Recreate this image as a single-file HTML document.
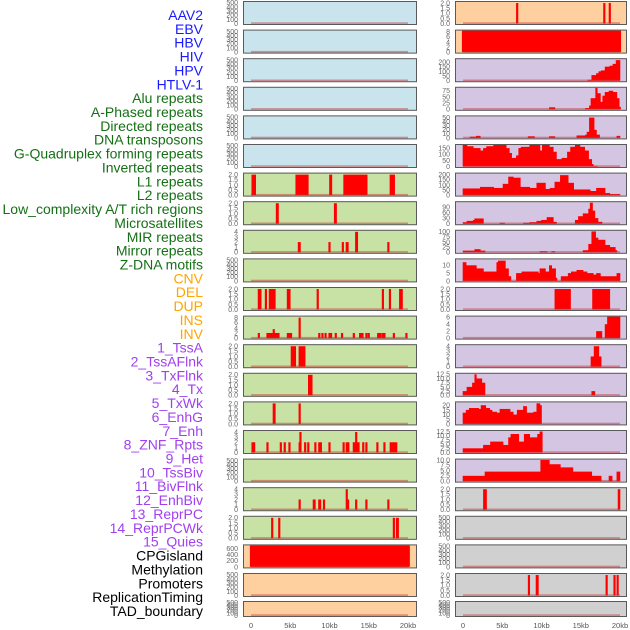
<!DOCTYPE html>
<html><head><meta charset="utf-8">
<style>
html,body{margin:0;padding:0;background:#fff;}
svg{display:block;}
</style></head>
<body>
<svg id="chart" width="630" height="630" viewBox="0 0 630 630" xmlns="http://www.w3.org/2000/svg">
<g id="labels"></g>
<g id="panels"></g>
<g id="xaxes"></g>
</svg>
<script>
const trackLabels = ["AAV2","EBV","HBV","HIV","HPV","HTLV-1","Alu repeats","A-Phased repeats","Directed repeats","DNA transposons","G-Quadruplex forming repeats","Inverted repeats","L1 repeats","L2 repeats","Low_complexity A/T rich regions","Microsatellites","MIR repeats","Mirror repeats","Z-DNA motifs","CNV","DEL","DUP","INS","INV","1_TssA","2_TssAFlnk","3_TxFlnk","4_Tx","5_TxWk","6_EnhG","7_Enh","8_ZNF_Rpts","9_Het","10_TssBiv","11_BivFlnk","12_EnhBiv","13_ReprPC","14_ReprPCWk","15_Quies","CPGisland","Methylation","Promoters","ReplicationTiming","TAD_boundary"];
const labelGroups = ["v","v","v","v","v","v","r","r","r","r","r","r","r","r","r","r","r","r","r","s","s","s","s","s","c","c","c","c","c","c","c","c","c","c","c","c","c","c","c","o","o","o","o","o"];
const xTicks = [0,5,10,15,20];
const xTickLabels = ["0","5kb","10kb","15kb","20kb"];

const leftBg = ["b","b","b","b","b","b","g","g","g","g","g","g","g","g","g","g","g","g","g","o","o","o"];
const leftYmax = [520,520,520,520,520,520,2.1,2.1,4.2,520,2.1,8.4,2.1,2.1,2.1,4.2,520,4.2,2.1,700,520,520];
const leftTicks = [
 [0,100,200,300,400,500],[0,100,200,300,400,500],[0,100,200,300,400,500],[0,100,200,300,400,500],[0,100,200,300,400,500],[0,100,200,300,400,500],
 ["0.0","0.5","1.0","1.5","2.0"],["0.0","0.5","1.0","1.5","2.0"],[0,1,2,3,4],[0,100,200,300,400,500],["0.0","0.5","1.0","1.5","2.0"],[0,2,4,6,8],
 ["0.0","0.5","1.0","1.5","2.0"],["0.0","0.5","1.0","1.5","2.0"],["0.0","0.5","1.0","1.5","2.0"],[0,1,2,3,4],[0,100,200,300,400,500],[0,1,2,3,4],
 ["0.0","0.5","1.0","1.5","2.0"],[0,200,400,600],[0,100,200,300,400,500],[0,100,200,300,400,500]];
const leftSegs = [
 [],[],[],[],[],[],
 [[0.1,0.6,2],[5.7,7.3,2],[10.0,10.3,2],[11.8,14.8,2],[17.7,18.3,2]],
 [[3.2,3.5,2],[10.6,10.9,2]],
 [[6.0,6.3,2],[9.9,10.1,2],[11.6,11.8,2],[12.1,12.4,2],[13.3,13.6,4],[17.4,17.6,2]],
 [],
 [[0.9,1.3,2],[1.8,2.0,2],[2.3,3.1,2],[4.6,5.0,2],[8.4,8.6,2],[16.7,16.9,2],[17.6,17.8,2],[18.9,19.3,2]],
 [[0.9,1.1,2],[2.0,2.8,2],[2.8,3.0,3.5],[3.0,3.6,2],[4.6,5.2,2],[6.1,6.3,8],[8.6,8.8,2],[9.0,9.2,2],[9.4,9.6,2],[9.9,10.3,2],[10.7,10.9,2],[11.5,11.7,2],[13.0,13.2,2],[13.8,14.3,2],[14.6,14.8,2],[14.9,15.1,2],[16.1,16.6,2],[16.7,17.1,2],[18.1,18.3,2],[19.7,19.9,2]],
 [[5.1,5.7,2],[6.1,6.9,2]],
 [[7.3,7.8,2]],
 [[2.8,3.1,2],[6.1,6.3,2]],
 [[0.1,0.5,2],[2.0,2.2,2],[3.7,3.9,2],[4.2,4.4,2],[4.8,5.0,2],[6.1,6.3,2],[6.2,6.4,4],[6.8,7.0,2],[7.2,7.4,2],[8.1,8.3,2],[8.6,9.0,2],[9.9,10.1,2],[11.7,11.9,2],[12.1,12.5,2],[13.0,13.8,2],[13.3,13.5,4],[14.2,14.4,2],[14.6,14.8,2],[16.0,16.2,2],[16.9,17.1,2],[17.7,18.6,2]],
 [],
 [[6.1,6.3,2],[7.9,8.2,2],[8.6,8.9,2],[9.2,9.4,2],[12.1,12.3,4],[12.3,12.4,2],[13.3,13.5,2],[14.6,14.8,2],[17.4,17.6,2]],
 [[2.6,2.8,2],[3.5,3.7,2],[18.1,18.3,2],[18.5,18.8,2]],
 [[-0.1,20.2,700]],
 [],[]];

const rightBg = ["o","o","p","p","p","p","p","p","p","p","p","p","p","p","p","p","p","y","y","y","y","y"];
const rightYmax = [2.1,8.4,230,87,53,175,210,115,103,13.8,2.1,6.2,4.2,12.8,23,12.8,10.2,2.1,520,520,2.1,520];
const rightTicks = [
 ["0.0","0.5","1.0","1.5","2.0"],[0,2,4,6,8],[0,50,100,150,200],[0,25,50,75],[0,10,20,30,40,50],[0,50,100,150],
 [0,50,100,150,200],[0,30,60,90],[0,25,50,75,100],[0,5,10],["0.0","0.5","1.0","1.5","2.0"],[0,2,4,6],
 [0,1,2,3,4],["0.0","2.5","5.0","7.5","10.0","12.5"],[0,5,10,15,20],["0.0","2.5","5.0","7.5","10.0","12.5"],["0.0","2.5","5.0","7.5","10.0"],["0.0","0.5","1.0","1.5","2.0"],
 [0,100,200,300,400,500],[0,100,200,300,400,500],["0.0","0.5","1.0","1.5","2.0"],[0,100,200,300,400,500]];
const rightSegs = [
 [[6.8,7.0,2],[17.9,18.1,2],[18.6,18.8,2]],
 [[-0.1,20.1,8.4]],
 [[15.9,16.4,10],[16.4,17.0,60],[17.0,17.3,80],[17.3,17.6,100],[17.6,18.1,110],[18.1,18.7,150],[18.7,19.1,160],[19.1,19.5,180],[19.5,20.0,220]],
 [[11.0,11.7,8],[15.6,16.1,5],[16.1,16.3,15],[16.3,16.9,45],[16.9,17.1,87],[17.1,17.5,65],[17.5,17.8,30],[17.8,18.1,55],[18.1,18.6,70],[18.6,19.1,75],[19.1,19.6,70],[19.6,19.9,45],[19.9,20.0,10]],
 [[0.9,1.7,3],[1.7,2.2,5],[8.3,9.1,4],[11.0,11.7,4],[14.5,15.6,6],[15.6,15.8,8],[15.8,16.1,15],[16.1,16.7,50],[16.7,17.0,20],[17.0,17.4,8],[19.6,20.0,5]],
 [[0.0,0.5,175],[0.5,1.3,165],[1.3,2.2,150],[2.2,2.6,130],[2.6,3.0,150],[3.0,3.9,165],[3.9,5.5,175],[5.5,5.9,150],[5.9,6.2,110],[6.2,6.8,70],[6.8,7.1,90],[7.1,7.4,150],[7.4,8.5,160],[8.5,9.8,175],[9.8,10.1,130],[10.1,11.0,175],[11.0,11.5,160],[11.5,11.9,120],[11.9,12.6,60],[12.6,13.3,70],[13.3,13.7,120],[13.7,14.3,160],[14.3,14.9,175],[14.9,15.5,160],[15.5,16.0,130],[16.0,16.4,60],[16.4,16.6,20],[16.6,17.1,5]],
 [[0.0,2.2,65],[2.2,3.9,80],[3.9,5.1,70],[5.1,5.8,110],[5.8,6.4,180],[6.4,7.3,170],[7.3,8.5,80],[8.5,9.4,70],[9.4,10.5,120],[10.5,11.1,60],[11.1,11.7,70],[11.7,12.4,130],[12.4,13.4,195],[13.4,14.1,120],[14.1,16.2,55],[16.2,17.0,40],[17.0,18.1,70],[18.1,18.7,20],[18.7,20.0,10]],
 [[0.0,0.5,8],[0.5,1.3,15],[1.3,1.5,20],[1.5,2.6,28],[4.7,5.3,5],[7.7,8.5,5],[8.5,9.4,8],[9.4,10.0,15],[10.0,10.7,20],[10.7,11.5,35],[11.5,11.9,10],[14.3,14.7,20],[14.7,15.3,40],[15.3,16.0,55],[16.0,16.2,80],[16.2,16.5,112],[16.5,16.8,70],[16.8,17.2,30],[17.2,17.7,10]],
 [[0.0,1.5,8],[1.5,2.2,15],[2.2,2.8,8],[9.8,10.7,5],[11.3,11.7,5],[15.3,16.0,10],[16.0,16.4,40],[16.4,16.9,100],[16.9,17.2,70],[17.2,18.1,60],[18.1,18.7,35],[18.7,19.4,25],[19.4,19.6,10]],
 [[0.0,0.4,12],[0.4,1.7,10],[1.7,2.6,8],[2.6,4.3,6],[4.3,4.5,12],[4.5,5.4,13],[5.4,5.8,8],[5.8,6.1,3],[6.8,7.5,5],[7.5,9.6,6],[9.6,9.8,5],[9.8,10.5,8],[10.5,11.0,6],[11.0,11.3,10],[11.3,11.8,8],[11.8,11.9,2],[12.5,13.4,3],[13.4,13.8,5],[13.8,14.5,6],[14.5,15.3,7],[15.3,15.8,6],[15.8,16.6,5],[16.6,17.0,4],[17.0,17.5,5],[17.5,19.6,3],[19.6,20.0,5]],
 [[11.7,13.7,2],[16.5,18.7,2]],
 [[17.0,17.7,2],[18.1,18.4,4],[18.4,20.0,6.2]],
 [[16.3,16.7,2],[16.7,17.3,4],[17.3,17.6,2]],
 [[0.0,0.5,2.5],[0.5,1.2,5],[1.2,1.5,7.5],[1.5,1.7,12.5],[1.7,2.4,10],[2.4,2.8,7.5],[16.4,16.8,2.5]],
 [[0.0,0.4,12],[0.4,0.8,15],[0.8,2.0,17],[2.0,2.3,16],[2.3,2.9,20],[2.9,3.4,17],[3.4,3.7,15],[3.7,4.3,13],[4.3,4.7,12],[4.7,6.0,16],[6.0,6.4,13],[6.4,6.9,10],[6.9,7.7,15],[7.7,8.1,19],[8.1,9.0,12],[9.0,9.4,13],[9.4,9.8,22],[9.8,10.0,20]],
 [[0.0,2.6,2.5],[2.6,3.5,4.5],[3.5,5.1,6.5],[5.1,5.8,4.5],[5.8,6.1,9],[6.1,7.1,11],[7.1,7.8,6.5],[7.8,8.5,11],[8.5,9.5,9],[9.5,9.8,11],[9.8,10.1,12.5]],
 [[0.0,2.8,2.5],[2.8,9.9,4.5],[9.9,11.0,10],[11.0,12.4,8],[12.4,14.0,6.5],[14.0,16.4,4.5],[16.4,17.6,2.5],[18.6,19.0,2.5],[19.6,20.0,4.5]],
 [[2.6,3.0,2],[19.75,20.0,2]],
 [],[],
 [[8.3,8.5,2],[9.3,9.6,2],[18.2,18.4,2],[19.2,19.4,2],[19.6,19.8,2]],
 []];

const bgColors = {b:"#c9e4ec",g:"#c8e1a5",o:"#fecf9f",p:"#d4c5e2",y:"#d0d0d0"};
const labelColors = {v:"#1a1aff",r:"#157015",s:"#ffa500",c:"#a040f0",o:"#000000"};
const NS = "http://www.w3.org/2000/svg";
function mk(tag, attrs, parent){const e=document.createElementNS(NS,tag);for(const k in attrs)e.setAttribute(k,attrs[k]);parent.appendChild(e);return e;}

const labelsG = document.getElementById('labels');
trackLabels.forEach((t,i)=>{
  const e = mk('text',{x:203,y:(20+i*13.86).toFixed(1),'text-anchor':'end','font-size':'14','font-family':'Liberation Sans, sans-serif',fill:labelColors[labelGroups[i]]},labelsG);
  
  
  e.textContent = t;
});

function rowTop(r){return r===21?601:1+r*28.6;}
function rowH(r){return r===21?16:24;}

const panelsG = document.getElementById('panels');
function drawColumn(colX0, colX1, zeroX, bgArr, ymaxArr, ticksArr, segsArr, side){
  const xs = kb => zeroX + kb*7.85;
  for(let r=0;r<22;r++){
    const t=rowTop(r), h=rowH(r);
    const y0=t+h-1.5, ytop=t+1;
    const ys = v => y0 - (v/ymaxArr[r])*(y0-ytop);
    const g = mk('g',{},panelsG);
    
    
    const bg = mk('rect',{x:colX0,y:t,width:colX1-colX0,height:h,fill:bgColors[bgArr[r]],stroke:'none'},g);
    
    
    segsArr[r].forEach(s=>{
      const x1=xs(s[0]), x2=xs(s[1]);
      const yv=Math.max(ys(s[2]),t);
      const b = mk('rect',{x:(x1-0.3).toFixed(2),y:yv.toFixed(2),width:(Math.max(x2-x1,1.3)+0.6).toFixed(2),height:(y0-yv).toFixed(2),fill:'#ff0000'},g);
      
      
    });
    const bl = mk('rect',{x:xs(0),y:y0-1.2,width:xs(20)-xs(0),height:1.6,fill:'rgba(200,40,40,0.45)'},g);
    
    
    const fr = mk('rect',{x:colX0+0.5,y:t+0.5,width:colX1-colX0-1,height:h-1,fill:'none',stroke:'#5a5a5a','stroke-width':1},g);
    
    
    ticksArr[r].forEach(tk=>{
      const v=parseFloat(tk);
      const ty=ys(v);
      const tx = mk('text',{x:colX0-5,y:(ty+2.4).toFixed(1),'text-anchor':'end','font-size':'7','font-family':'Liberation Sans, sans-serif',fill:'#666'},g);
      
      
      tx.textContent=String(tk);
    });
  }
  const ax = document.getElementById('xaxes');
  xTicks.forEach((k,i)=>{
    const tx = mk('text',{x:xs(k).toFixed(1),y:628,'text-anchor':'middle','font-size':'7.5','font-family':'Liberation Sans, sans-serif',fill:'#555'},ax);
    
    
    tx.textContent=xTickLabels[i];
  });
}
drawColumn(243,417,251,leftBg,leftYmax,leftTicks,leftSegs,'left');
drawColumn(455,627,463,rightBg,rightYmax,rightTicks,rightSegs,'right');
</script>
</body></html>
